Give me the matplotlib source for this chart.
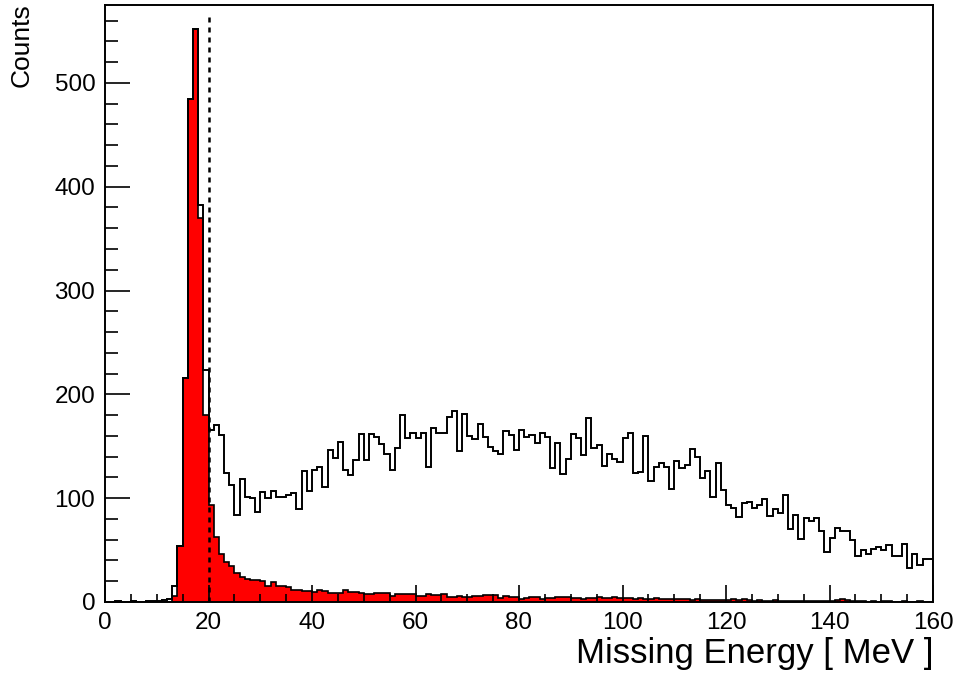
import matplotlib
matplotlib.use('Agg')
import matplotlib.pyplot as plt
import numpy as np

plt.rcParams['font.family'] = ['Liberation Sans', 'DejaVu Sans']

# 1 MeV bins from 0 to 160
edges = np.arange(0, 161, 1)

# all events (black outline)
all_counts = [
    0, 0, 1, 0, 0, 1, 0, 0, 1, 1,
    1, 2, 3, 15, 54, 216, 484, 552, 382, 223,
    166, 170, 161, 124, 113, 84, 118, 101, 100, 87,
    106, 100, 107, 101, 101, 103, 105, 90, 126, 107,
    127, 130, 111, 146, 139, 154, 127, 122, 137, 162,
    137, 162, 159, 152, 143, 127, 148, 180, 158, 163,
    158, 163, 130, 168, 163, 163, 178, 184, 145, 181,
    160, 157, 171, 159, 149, 145, 143, 165, 161, 146,
    166, 159, 161, 153, 163, 159, 129, 153, 123, 138,
    162, 158, 142, 177, 148, 151, 131, 143, 138, 135,
    158, 163, 124, 125, 160, 117, 130, 134, 130, 109,
    136, 129, 132, 147, 140, 119, 126, 101, 134, 108,
    93, 91, 82, 95, 96, 91, 93, 99, 83, 90,
    86, 103, 70, 84, 61, 81, 78, 81, 68, 48,
    62, 71, 68, 68, 60, 44, 50, 46, 51, 53,
    50, 55, 44, 44, 56, 33, 46, 36, 41, 41,
]

# selected events (red filled)
sel_counts = [
    0, 0, 0, 0, 0, 0, 0, 0, 0, 0,
    0, 0, 0, 6, 54, 216, 484, 552, 370, 180,
    93, 63, 46, 39, 35, 28, 24, 22, 21, 21,
    20, 15, 19, 15, 15, 14, 12, 12, 11, 11,
    10, 12, 11, 9, 9, 9, 12, 10, 10, 9,
    8, 8, 9, 9, 9, 6, 8, 8, 8, 8,
    6, 6, 8, 7, 7, 8, 5, 5, 6, 5,
    5, 6, 6, 7, 7, 7, 4, 6, 5, 5,
    3, 4, 5, 5, 3, 4, 4, 5, 5, 5,
    4, 4, 3, 4, 4, 5, 4, 4, 5, 4,
    4, 4, 3, 4, 3, 3, 4, 3, 3, 3,
    3, 3, 3, 2, 3, 2, 2, 2, 2, 2,
    2, 3, 2, 3, 2, 1, 2, 1, 1, 2,
    1, 1, 1, 1, 1, 1, 1, 1, 1, 1,
    1, 2, 3, 2, 1, 1, 1, 0, 1, 0,
    1, 1, 0, 0, 1, 0, 0, 1, 0, 0,
]

cut_value = 20
cut_top = 565

fig = plt.figure(figsize=(9.6, 6.77), dpi=100)
ax = fig.add_axes([105/960, 1 - 602/677, (933 - 105)/960, (602 - 5)/677])

ax.stairs(sel_counts, edges, fill=True, facecolor='#ff0000', edgecolor='none')
ax.stairs(sel_counts, edges, color='black', lw=1.2)
ax.stairs(all_counts, edges, color='black', lw=1.4)
ax.plot([cut_value, cut_value], [0, cut_top], color='black', lw=1.8,
        linestyle=(0, (2, 2)))

ax.set_xlim(0, 160)
ax.set_ylim(0, 575)
ax.set_xticks(np.arange(0, 161, 20))
ax.set_xticks(np.arange(0, 161, 5), minor=True)
ax.set_yticks(np.arange(0, 501, 100))
ax.set_yticks(np.arange(0, 575, 20), minor=True)

ax.tick_params(axis='both', which='both', direction='in', top=False, right=False,
               labelsize=17.5, width=1.2)
ax.tick_params(axis='y', which='major', length=18, pad=7)
ax.tick_params(axis='y', which='minor', length=9)
ax.tick_params(axis='x', which='major', length=12, pad=7)
ax.tick_params(axis='x', which='minor', length=6)
for s in ax.spines.values():
    s.set_linewidth(1.4)

fig.text(10/960, 1 - 3/677, 'Counts', rotation=90, ha='left', va='top', fontsize=19)
fig.text(933/960, 1 - 663/677, 'Missing Energy [ MeV ]', ha='right', va='baseline',
         fontsize=25)

fig.savefig('out.png', dpi=100)
